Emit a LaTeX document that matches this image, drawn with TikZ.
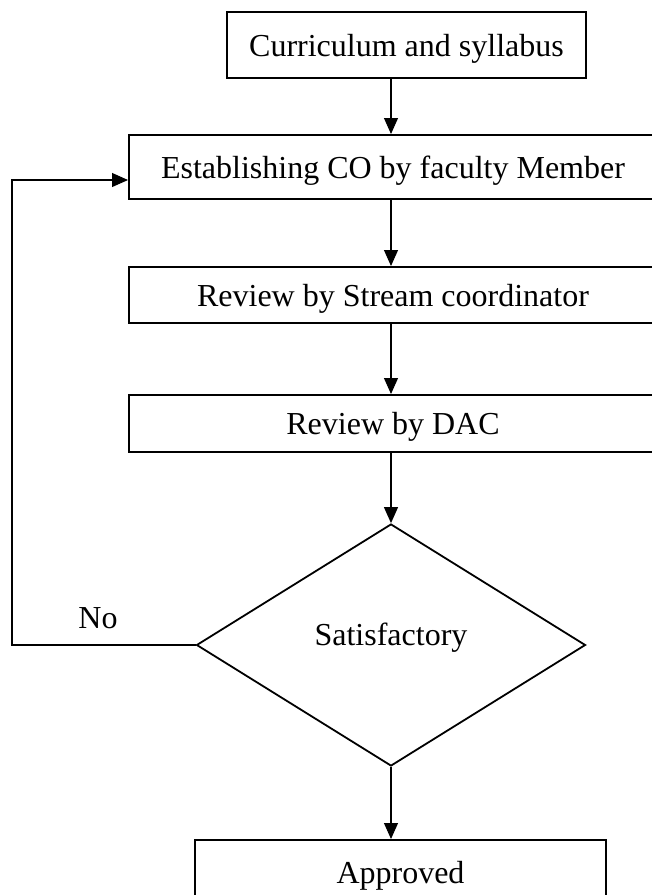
\documentclass[tikz,border=0pt]{standalone}
\usepackage{fontspec}
\setmainfont{Liberation Serif}
\usetikzlibrary{shapes.geometric,arrows.meta}
\tikzset{
  boxnode/.style={draw, line width=2pt, rectangle, inner sep=0pt, text height=22pt, text depth=0pt, font=\fontsize{32}{38}\selectfont},
  txt/.style={inner sep=0pt, text height=22pt, text depth=0pt, font=\fontsize{32}{38}\selectfont},
  arr/.style={line width=1.1pt, -{Triangle[length=16pt,width=14pt]}},
}
\begin{document}
\begin{tikzpicture}[x=1pt,y=1pt]
\useasboundingbox (0,0) rectangle (652,-895);
\clip (0,0) rectangle (652,-895);
\fill[white] (0,0) rectangle (652,-895);
\coordinate (ax) at (391,0);
\node[boxnode, minimum width=359pt, minimum height=66pt] (b1) at (406.5,-45) {Curriculum and syllabus};
\node[boxnode, minimum width=528pt, minimum height=64pt] (b2) at (393,-167) {Establishing CO by faculty Member};
\node[boxnode, minimum width=528pt, minimum height=56pt] (b3) at (393,-295) {Review by Stream coordinator};
\node[boxnode, minimum width=528pt, minimum height=57pt] (b4) at (393,-423.5) {Review by DAC};
\node[draw, diamond, line width=1.8pt, minimum width=389pt, minimum height=242pt, inner sep=0pt] (d) at (391,-645) {};
\node[txt] (dt) at (391,-634.5) {Satisfactory};
\node[boxnode, minimum width=411pt, minimum height=64pt] (b5) at (400.5,-872) {Approved};
\node[txt] (no) at (98,-617) {No};
\coordinate (fb1) at (12,-645);
\coordinate (fb2) at (12,-180);
\draw[arr] (b1.south -| ax) -- (b2.north -| ax);
\draw[arr] (b2.south -| ax) -- (b3.north -| ax);
\draw[arr] (b3.south -| ax) -- (b4.north -| ax);
\draw[arr] (b4.south -| ax) -- (d.north);
\draw[arr] (d.south) -- (b5.north -| ax);
\draw[arr] (d.west) -- (fb1) -- (fb2) -- (b2.west |- fb2);
\end{tikzpicture}
\end{document}
